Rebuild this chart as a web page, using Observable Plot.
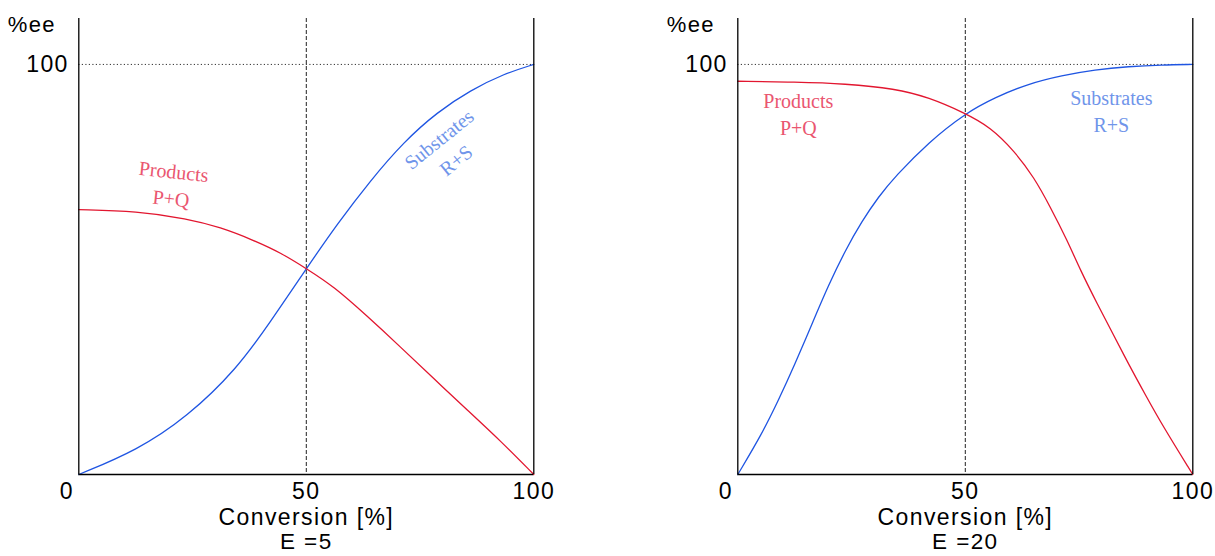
<!DOCTYPE html>
<html>
<head>
<meta charset="utf-8">
<script src="https://cdn.jsdelivr.net/npm/d3@7"></script>
<script src="https://cdn.jsdelivr.net/npm/@observablehq/plot@0.6"></script>
<style>
  html, body { margin: 0; padding: 0; background: #fff; }
  #wrap { position: relative; width: 1215px; height: 556px; overflow: hidden; }
  #wrap > div { position: absolute; top: 0; }
  g[font-family="Liberation Sans"] { letter-spacing: 1.4px; }
</style>
</head>
<body>
<div id="wrap"><div id="left"></div><div id="right"></div></div>
<script>
// ---- Data ----
// Panel E=5
const convProdE5 = [0, 12.8, 23.8, 31.1, 38.5, 44.5, 50, 56.0, 63.4, 70.7, 78.0, 85.4, 92.7, 100];
const eeProdE5   = [64.6, 64.2, 62.4, 60.3, 57.1, 54.0, 50.2, 45.9, 38.6, 31.1, 23.4, 15.7, 8.2, 0];
const convSubE5  = [0, 12.8, 23.8, 34.8, 42.1, 50, 56.8, 64.1, 71.4, 78.8, 86.1, 93.4, 100];
const eeSubE5    = [0, 5.9, 14.0, 25.8, 37.2, 50.2, 61.1, 71.7, 81.1, 88.4, 93.7, 97.7, 100];
// Panel E=20
const convProdE20 = [0, 12.6, 23.6, 34.6, 41.9, 50, 55.5, 60.7, 65.1, 68.7, 72.4, 75.3, 79.0, 82.6, 85.9, 89.5, 93.2, 100];
const eeProdE20   = [95.9, 95.7, 95.3, 94.1, 92.0, 88.1, 84.7, 79.0, 72.5, 65.2, 57.1, 49.8, 41.6, 34.0, 26.9, 19.6, 12.2, 0];
const convSubE20  = [0, 5.3, 8.9, 12.6, 16.3, 19.9, 23.6, 27.3, 30.9, 34.6, 41.9, 50, 56.6, 63.9, 71.2, 78.5, 85.9, 93.2, 100];
const eeSubE20    = [0, 9.9, 18.0, 27.0, 36.7, 46.1, 54.6, 61.8, 67.7, 72.7, 81.0, 88.1, 92.0, 95.3, 97.3, 98.7, 99.5, 99.9, 100];

const xTickLabels = [50, 100];
const yTickLabels = [100];
const yAxisTitle = "%ee";
const xAxisTitle = "Conversion [%]";
const panelTitles = ["E =5", "E =20"];
const productLabel = "Products\nP+Q";
const substrateLabel = "Substrates\nR+S";

// annotation positions (data coords) per panel
const productLabelPos = [[20.6, 71.0], [13.3, 88.3]];
const substrateLabelPos = [[80.8, 79.5], [82.1, 88.8]];
const productLabelRotate = [6, 0];
const substrateLabelRotate = [-39, 0];

const RED = "#e2162f", BLUE = "#1f55e2";
const RED_TXT = "#ea5670", BLUE_TXT = "#7095ea";
const SANS = "Liberation Sans", SERIF = "Liberation Serif";

function toRows(xs, ys) { return xs.map((x, i) => ({x, y: ys[i]})); }

function panel(i, prodX, prodY, subX, subY, width, mLeft, mRight) {
  const prod = toRows(prodX, prodY);
  const sub = toRows(subX, subY);
  return Plot.plot({
    width, height: 556,
    marginLeft: mLeft, marginRight: mRight, marginTop: 18, marginBottom: 82,
    x: {domain: [0, 100], axis: null},
    y: {domain: [0, 111.2], axis: null},
    style: {background: "transparent", overflow: "visible"},
    marks: [
      Plot.ruleY([100], {stroke: "#333", strokeWidth: 1, strokeDasharray: "1.2,2.3"}),
      Plot.ruleX([50], {stroke: "#222", strokeWidth: 1, strokeDasharray: "4,2"}),
      Plot.line(sub, {x: "x", y: "y", stroke: BLUE, strokeWidth: 1.3, curve: "basis"}),
      Plot.line(prod, {x: "x", y: "y", stroke: RED, strokeWidth: 1.3, curve: "basis"}),
      Plot.ruleX([0, 100], {stroke: "#000", strokeWidth: 1.3}),
      Plot.ruleY([0], {stroke: "#000", strokeWidth: 1.3}),
      // tick labels
      Plot.text(xTickLabels, {x: d => d, y: 0, dy: 17, text: d => String(d), fontSize: 23, fontFamily: SANS, fill: "#000"}),
      Plot.text([0], {x: d => d, y: 0, dx: -12, dy: 17, text: d => String(d), fontSize: 23, fontFamily: SANS, fill: "#000"}),
      Plot.text(yTickLabels, {x: 0, y: d => d, dx: -10, text: d => String(d), textAnchor: "end", fontSize: 23, fontFamily: SANS, fill: "#000"}),
      Plot.text([yAxisTitle], {x: 0, y: 111.2, dx: -47, dy: 6, text: d => d, fontSize: 22, fontFamily: SANS, fill: "#000"}),
      Plot.text([xAxisTitle], {x: 50, y: 0, dy: 43, text: d => d, fontSize: 23, fontFamily: SANS, fill: "#000"}),
      Plot.text([panelTitles[i]], {x: 50, y: 0, dy: 67, text: d => d, fontSize: 22.5, fontFamily: SANS, fill: "#000"}),
      // annotations
      Plot.text([productLabel], {x: productLabelPos[i][0], y: productLabelPos[i][1], text: d => d, rotate: productLabelRotate[i],
        fontSize: 20, fontFamily: SERIF, fill: RED_TXT, lineHeight: 1.35}),
      Plot.text([substrateLabel], {x: substrateLabelPos[i][0], y: substrateLabelPos[i][1], text: d => d, rotate: substrateLabelRotate[i],
        fontSize: 20, fontFamily: SERIF, fill: BLUE_TXT, lineHeight: 1.35})
    ]
  });
}

const left = panel(0, convProdE5, eeProdE5, convSubE5, eeSubE5, 607, 78.3, 607 - 533.3);
const right = panel(1, convProdE20, eeProdE20, convSubE20, eeSubE20, 608, 130.3, 608 - 585.3);
const L = document.getElementById("left"), R = document.getElementById("right");
L.style.left = "0px"; R.style.left = "607px";
L.appendChild(left); R.appendChild(right);
</script>
</body>
</html>
